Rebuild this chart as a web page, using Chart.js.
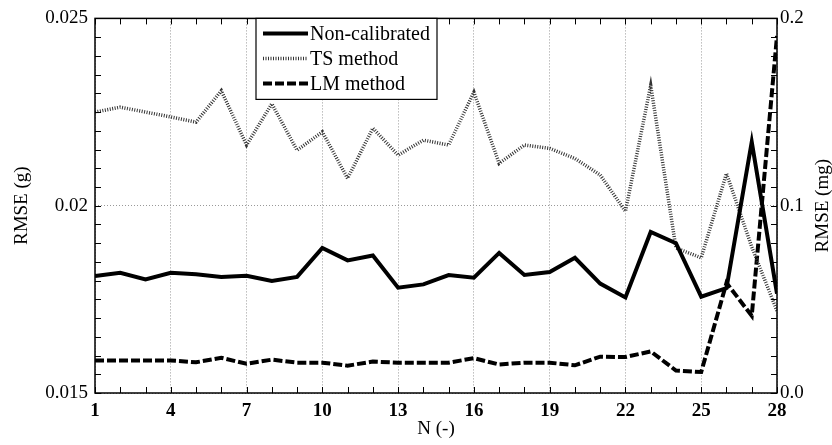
<!DOCTYPE html>
<html lang="en">
<head>
<meta charset="UTF-8">
<title>RMSE vs N</title>
<script src="https://cdn.jsdelivr.net/npm/chart.js"></script>
<style>
  body { margin: 0; background: #fff; }
  canvas { display: block; }
</style>
</head>
<body>
<canvas id="rmseChart" width="832" height="445"></canvas>
<script>
  // N values on the x axis
  const nValues = [1, 2, 3, 4, 5, 6, 7, 8, 9, 10, 11, 12, 13, 14, 15, 16, 17, 18, 19, 20, 21, 22, 23, 24, 25, 26, 27, 28];

  // RMSE (g)
  const nonCalibrated = [0.01812, 0.01821, 0.01803, 0.01821, 0.01817, 0.01810, 0.01813, 0.01799, 0.01810, 0.01887,
                         0.01854, 0.01867, 0.01781, 0.01790, 0.01815, 0.01808, 0.01874, 0.01815, 0.01823, 0.01861,
                         0.01792, 0.01755, 0.01930, 0.01900, 0.01757, 0.01780, 0.02170, 0.01765];
  const tsMethod = [0.02250, 0.02263, 0.02250, 0.02237, 0.02223, 0.02307, 0.02162, 0.02272, 0.02148, 0.02197,
                    0.02073, 0.02207, 0.02135, 0.02175, 0.02162, 0.02303, 0.02113, 0.02162, 0.02153, 0.02126,
                    0.02082, 0.01985, 0.02321, 0.01887, 0.01861, 0.02086, 0.01890, 0.01719];
  // RMSE (mg), right axis
  const lmMethod = [0.0174, 0.0174, 0.0174, 0.0174, 0.0164, 0.0188, 0.0156, 0.0178, 0.0162, 0.0162,
                    0.0146, 0.0168, 0.0162, 0.0162, 0.0162, 0.0186, 0.0152, 0.0162, 0.0162, 0.0148,
                    0.0194, 0.0192, 0.0222, 0.0120, 0.0112, 0.0588, 0.0412, 0.1906];

  const xTicks = [1, 4, 7, 10, 13, 16, 19, 22, 25, 28];
  const leftTicks = [0.015, 0.02, 0.025];
  const leftTickLabels = ['0.015', '0.02', '0.025'];
  const rightTicks = [0, 0.1, 0.2];
  const rightTickLabels = ['0.0', '0.1', '0.2'];
  const rightTitle = 'RMSE (mg)';

  const serif = '"Liberation Serif", "Times New Roman", serif';

  // box, small inward ticks, right-hand title and the legend inside the plot
  const frameAndLegend = {
    id: 'frameAndLegend',
    afterDraw(chart) {
      const { ctx, chartArea: a, scales } = chart;
      ctx.save();
      ctx.strokeStyle = '#000';
      ctx.lineWidth = 1;
      ctx.setLineDash([]);
      ctx.beginPath();
      nValues.forEach(n => {
        const x = Math.round(scales.x.getPixelForValue(n)) + 0.5;
        ctx.moveTo(x, a.bottom); ctx.lineTo(x, a.bottom - 6);
        ctx.moveTo(x, a.top); ctx.lineTo(x, a.top + 6);
      });
      for (let k = 0; k <= 20; k++) {
        const y = Math.round(scales.y.getPixelForValue(0.015 + k * 0.0005)) + 0.5;
        ctx.moveTo(a.left, y); ctx.lineTo(a.left + 6, y);
        const y1 = Math.round(scales.y1.getPixelForValue(k * 0.01)) + 0.5;
        ctx.moveTo(a.right, y1); ctx.lineTo(a.right - 6, y1);
      }
      ctx.stroke();

      ctx.lineWidth = 1.5;
      ctx.strokeRect(a.left, a.top, a.right - a.left, a.bottom - a.top);

      // right axis title, read bottom to top like the left one
      ctx.save();
      ctx.translate(823, (a.top + a.bottom) / 2);
      ctx.rotate(-Math.PI / 2);
      ctx.font = '19px ' + serif;
      ctx.fillStyle = '#000';
      ctx.textAlign = 'center';
      ctx.textBaseline = 'middle';
      ctx.fillText(rightTitle, 0, 0);
      ctx.restore();

      // legend
      const lx = 256, ly = a.top, lw = 181, lh = 81;
      ctx.fillStyle = '#fff';
      ctx.fillRect(lx, ly, lw, lh);
      ctx.lineWidth = 1.2;
      ctx.strokeRect(lx, ly, lw, lh);
      ctx.font = '20px ' + serif;
      ctx.textBaseline = 'middle';
      chart.data.datasets.forEach((ds, i) => {
        const y = ly + 15 + i * 25;
        ctx.beginPath();
        ctx.strokeStyle = ds.borderColor;
        ctx.lineWidth = ds.borderWidth;
        ctx.setLineDash(ds.borderDash || []);
        ctx.moveTo(lx + 7, y);
        ctx.lineTo(lx + 52, y);
        ctx.stroke();
        ctx.setLineDash([]);
        ctx.fillStyle = '#000';
        ctx.fillText(ds.label, lx + 54, y + 1);
      });
      ctx.restore();
    }
  };

  new Chart(document.getElementById('rmseChart'), {
    type: 'line',
    data: {
      labels: nValues,
      datasets: [
        {
          label: 'Non-calibrated',
          data: nonCalibrated,
          yAxisID: 'y',
          borderColor: '#000',
          borderWidth: 4,
          borderDash: []
        },
        {
          label: 'TS method',
          data: tsMethod,
          yAxisID: 'y',
          borderColor: '#333',
          borderWidth: 3.5,
          borderDash: [1, 1.5]
        },
        {
          label: 'LM method',
          data: lmMethod,
          yAxisID: 'y1',
          borderColor: '#000',
          borderWidth: 4,
          borderDash: [9, 3]
        }
      ]
    },
    options: {
      responsive: false,
      animation: false,
      layout: { padding: { top: 16, left: 0, right: 0, bottom: 0 } },
      elements: {
        point: { radius: 0 },
        line: { tension: 0, borderCapStyle: 'butt', borderJoinStyle: 'miter' }
      },
      plugins: {
        legend: { display: false },
        tooltip: { enabled: false }
      },
      scales: {
        x: {
          type: 'linear',
          min: 1,
          max: 28,
          afterBuildTicks: s => { s.ticks = xTicks.map(v => ({ value: v })); },
          afterFit: s => { s.height = 52; },
          grid: { color: '#999', lineWidth: 1, drawTicks: false },
          border: { display: false, dash: [1, 2] },
          ticks: {
            color: '#000',
            padding: 7,
            maxRotation: 0,
            font: { family: serif, size: 19, weight: 'bold' }
          },
          title: {
            display: true,
            text: 'N (-)',
            color: '#000',
            padding: { top: 0, bottom: 6 },
            font: { family: serif, size: 19, lineHeight: 1 }
          }
        },
        y: {
          position: 'left',
          min: 0.015,
          max: 0.025,
          afterBuildTicks: s => { s.ticks = leftTicks.map(v => ({ value: v })); },
          afterFit: s => { s.width = 95; },
          grid: { color: '#999', lineWidth: 1, drawTicks: false },
          border: { display: false, dash: [1, 2] },
          ticks: {
            color: '#000',
            padding: 7,
            font: { family: serif, size: 19 },
            callback: (v, i) => leftTickLabels[i]
          },
          title: {
            display: true,
            text: 'RMSE (g)',
            color: '#000',
            padding: { top: 13, bottom: 0 },
            font: { family: serif, size: 19, lineHeight: 1 }
          }
        },
        y1: {
          position: 'right',
          min: 0,
          max: 0.2,
          afterBuildTicks: s => { s.ticks = rightTicks.map(v => ({ value: v })); },
          afterFit: s => { s.width = 55; },
          grid: { display: false, drawTicks: false },
          border: { display: false },
          ticks: {
            color: '#000',
            padding: 3,
            font: { family: serif, size: 19 },
            callback: (v, i) => rightTickLabels[i]
          }
        }
      }
    },
    plugins: [frameAndLegend]
  });
</script>
</body>
</html>
